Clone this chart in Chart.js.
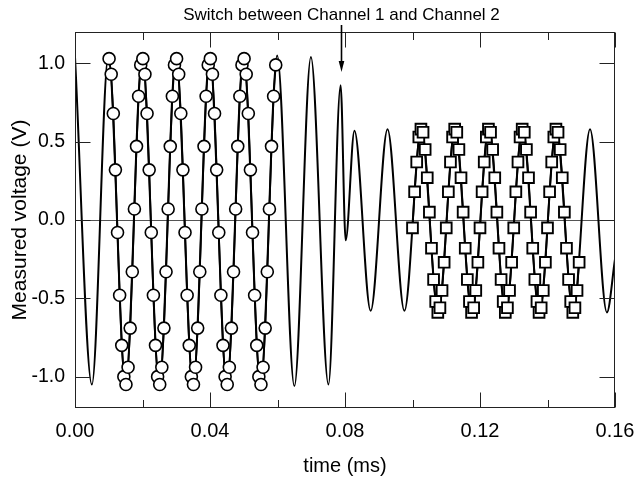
<!DOCTYPE html>
<html>
<head>
<meta charset="utf-8">
<script src="https://cdn.jsdelivr.net/npm/chart.js@4.4.0/dist/chart.umd.min.js"></script>
<style>
  html, body { margin: 0; padding: 0; background: #fff; }
  #wrap { width: 636px; height: 480px; }
</style>
</head>
<body>
<div id="wrap"><canvas id="c" width="636" height="480"></canvas></div>
<script>
// ---------- data ----------
const xTickValues = [0, 0.04, 0.08, 0.12, 0.16];
const xMinorTickValues = [0.02, 0.06, 0.10, 0.14];
const yTickValues = [-1.0, -0.5, 0.0, 0.5, 1.0];

// continuous trace: extrema (time in ms, voltage in V)
const lineTimes = [0, 0.005, 0.0099, 0.015, 0.0199, 0.025, 0.0299, 0.035, 0.0399, 0.045,
  0.0499, 0.055, 0.0599, 0.065, 0.0699, 0.0751, 0.0787, 0.0802, 0.0828, 0.0876,
  0.0926, 0.0976, 0.1026, 0.1076, 0.1126, 0.1176, 0.1226, 0.1276, 0.1326, 0.1376,
  0.1426, 0.1476, 0.1526, 0.1576, 0.1600];
const lineVolts = [1.04, -1.05, 1.05, -1.05, 1.05, -1.05, 1.05, -1.05, 1.05, -1.05,
  1.05, -1.05, 1.05, -1.06, 1.04, -1.05, 0.86, -0.13, 0.57, -0.58,
  0.58, -0.58, 0.58, -0.59, 0.58, -0.59, 0.58, -0.59, 0.58, -0.59,
  0.58, -0.59, 0.58, -0.59, -0.25];

// Channel 1 samples (circles)
const ch1Start = 0.0101;
const ch1Step = 0.000625;
const ch1Volts = [
  1.03, 0.93, 0.68, 0.32, -0.08, -0.48, -0.80, -1.00, -1.05, -0.94, -0.69, -0.33, 0.07, 0.47, 0.79, 0.99,
  1.03, 0.93, 0.68, 0.32, -0.08, -0.48, -0.80, -1.00, -1.05, -0.94, -0.69, -0.33, 0.07, 0.47, 0.79, 0.99,
  1.03, 0.93, 0.68, 0.32, -0.08, -0.48, -0.80, -1.00, -1.05, -0.94, -0.69, -0.33, 0.07, 0.47, 0.79, 0.99,
  1.03, 0.93, 0.68, 0.32, -0.08, -0.48, -0.80, -1.00, -1.05, -0.94, -0.69, -0.33, 0.07, 0.47, 0.79, 0.99,
  1.03, 0.93, 0.68, 0.32, -0.08, -0.48, -0.80, -1.00, -1.05, -0.94, -0.69, -0.33, 0.07, 0.47, 0.79, 0.99
];

// Channel 2 samples (squares)
const ch2Start = 0.1000;
const ch2Step = 0.000625;
const ch2Volts = [
  -0.05, 0.18, 0.37, 0.53, 0.58, 0.56, 0.45, 0.27, 0.05, -0.18, -0.38, -0.52, -0.59, -0.56, -0.45, -0.27,
  -0.05, 0.18, 0.37, 0.53, 0.58, 0.56, 0.45, 0.27, 0.05, -0.18, -0.38, -0.52, -0.59, -0.56, -0.45, -0.27,
  -0.05, 0.18, 0.37, 0.53, 0.58, 0.56, 0.45, 0.27, 0.05, -0.18, -0.38, -0.52, -0.59, -0.56, -0.45, -0.27,
  -0.05, 0.18, 0.37, 0.53, 0.58, 0.56, 0.45, 0.27, 0.05, -0.18, -0.38, -0.52, -0.59, -0.56, -0.45, -0.27,
  -0.05, 0.18, 0.37, 0.53, 0.58, 0.56, 0.45, 0.27, 0.05, -0.18, -0.38, -0.52, -0.59, -0.56, -0.45, -0.27
];

const annotationText = 'Switch between Channel 1 and Channel 2';
const arrowTime = 0.0788;
const arrowTipVolt = 0.945;

// ---------- chart ----------
const FONT = "'Liberation Sans', Arial, Helvetica, sans-serif";
Chart.defaults.color = '#000';
Chart.defaults.font.family = FONT;

const linePts = lineTimes.map((t, i) => ({ x: t, y: lineVolts[i] }));
const ch1Pts = ch1Volts.map((v, i) => ({ x: ch1Start + i * ch1Step, y: v }));
const ch2Pts = ch2Volts.map((v, i) => ({ x: ch2Start + i * ch2Step, y: v }));

const decorPlugin = {
  id: 'decor',
  beforeDatasetsDraw(chart) {
    const { ctx, chartArea: a, scales: { y } } = chart;
    ctx.save();
    ctx.strokeStyle = '#555';
    ctx.lineWidth = 1;
    const y0 = Math.round(y.getPixelForValue(0)) + 0.5;
    ctx.beginPath();
    ctx.moveTo(a.left, y0);
    ctx.lineTo(a.right, y0);
    ctx.stroke();
    ctx.restore();
  },
  afterDatasetsDraw(chart) {
    const { ctx, chartArea: a, scales: { x, y } } = chart;
    ctx.save();
    ctx.strokeStyle = '#222';
    ctx.lineWidth = 1;
    const L = Math.round(a.left) + 0.5, R = Math.round(a.right) - 0.5;
    const T = Math.round(a.top) + 0.5, B = Math.round(a.bottom) - 0.5;
    ctx.strokeRect(L, T, R - L, B - T);
    const major = 15, minor = 7.5;
    ctx.beginPath();
    xTickValues.forEach(v => {
      const px = Math.round(x.getPixelForValue(v)) + 0.5;
      ctx.moveTo(px, B); ctx.lineTo(px, B - major);
      ctx.moveTo(px, T); ctx.lineTo(px, T + major);
    });
    xMinorTickValues.forEach(v => {
      const px = Math.round(x.getPixelForValue(v)) + 0.5;
      ctx.moveTo(px, B); ctx.lineTo(px, B - minor);
      ctx.moveTo(px, T); ctx.lineTo(px, T + minor);
    });
    yTickValues.forEach(v => {
      const py = Math.round(y.getPixelForValue(v)) + 0.5;
      ctx.moveTo(L, py); ctx.lineTo(L + major, py);
      ctx.moveTo(R, py); ctx.lineTo(R - major, py);
    });
    ctx.stroke();

    // annotation
    const ax = Math.round(x.getPixelForValue(arrowTime)) + 0.5;
    const tipY = y.getPixelForValue(arrowTipVolt);
    const topY = a.top - 7;
    ctx.strokeStyle = '#000';
    ctx.fillStyle = '#000';
    ctx.lineWidth = 1.6;
    ctx.beginPath();
    ctx.moveTo(ax, topY);
    ctx.lineTo(ax, tipY - 8);
    ctx.stroke();
    ctx.beginPath();
    ctx.moveTo(ax, tipY);
    ctx.lineTo(ax - 2.8, tipY - 11);
    ctx.lineTo(ax + 2.8, tipY - 11);
    ctx.closePath();
    ctx.fill();

    ctx.font = '17px ' + FONT;
    ctx.textAlign = 'center';
    ctx.textBaseline = 'alphabetic';
    ctx.fillText(annotationText, ax, a.top - 12);
    ctx.restore();
  }
};

new Chart(document.getElementById('c'), {
  type: 'line',
  data: {
    datasets: [
      {
        data: ch1Pts,
        borderColor: '#000',
        borderWidth: 1.8,
        pointStyle: 'circle',
        pointRadius: 6,
        pointBackgroundColor: '#fff',
        pointBorderColor: '#000',
        pointBorderWidth: 1.6,
        tension: 0,
        fill: false
      },
      {
        data: ch2Pts,
        borderColor: '#000',
        borderWidth: 1.8,
        pointStyle: 'rect',
        pointRadius: 7.6,
        pointBackgroundColor: '#fff',
        pointBorderColor: '#000',
        pointBorderWidth: 1.9,
        tension: 0,
        fill: false
      },
      {
        data: linePts,
        borderColor: '#000',
        borderWidth: 2,
        pointRadius: 0,
        cubicInterpolationMode: 'monotone',
        fill: false
      }
    ]
  },
  options: {
    responsive: false,
    animation: false,
    events: [],
    layout: { padding: { top: 32, right: 21, bottom: 0, left: 0 } },
    plugins: { legend: { display: false }, tooltip: { enabled: false }, title: { display: false } },
    scales: {
      x: {
        type: 'linear',
        min: 0, max: 0.16,
        grid: { display: false, drawTicks: false },
        border: { display: false },
        afterBuildTicks: s => { s.ticks = xTickValues.map(v => ({ value: v })); },
        afterFit: s => { s.height = 72; s.paddingLeft = 0; s.paddingRight = 0; },
        ticks: {
          padding: 11,
          maxRotation: 0,
          font: { size: 20, family: FONT },
          color: '#000',
          callback: v => Number(v).toFixed(2)
        },
        title: {
          display: true,
          text: 'time (ms)',
          font: { size: 20, family: FONT },
          color: '#000',
          padding: { top: 0, bottom: 2 }
        }
      },
      y: {
        type: 'linear',
        min: -1.2, max: 1.2,
        grid: { display: false, drawTicks: false },
        border: { display: false },
        afterBuildTicks: s => { s.ticks = yTickValues.map(v => ({ value: v })); },
        afterFit: s => { s.width = 75; s.paddingTop = 0; s.paddingBottom = 0; },
        ticks: {
          padding: 10,
          font: { size: 19.5, family: FONT },
          color: '#000',
          callback: v => Number(v).toFixed(1)
        },
        title: {
          display: true,
          text: 'Measured voltage (V)',
          font: { size: 21, family: FONT },
          color: '#000',
          padding: { top: 8, bottom: 0 }
        }
      }
    }
  },
  plugins: [decorPlugin]
});
</script>
</body>
</html>
